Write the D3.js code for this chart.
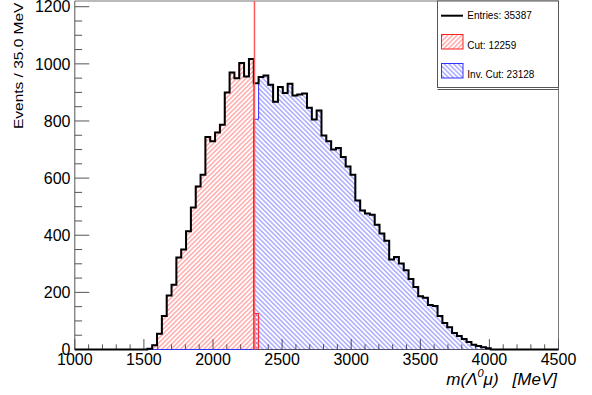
<!DOCTYPE html>
<html><head><meta charset="utf-8">
<script src="https://cdn.jsdelivr.net/npm/d3@7"></script>
<style>
html,body{margin:0;padding:0;background:#fff;}
svg{display:block;}
text{font-family:"Liberation Sans",Arial,Helvetica,sans-serif;fill:#000;}
</style></head><body>
<svg id="c" width="592" height="395"></svg>
<script>
// ---- data ----
const binStart = 1000, binWidth = 35, nBins = 100;
const xTickLabels = [1000, 1500, 2000, 2500, 3000, 3500, 4000, 4500];
const yTickLabels = [0, 200, 400, 600, 800, 1000, 1200];
const cutValue = 2300;
const cutCounts = [
  0,0,0,0,0,0,0,0,0,0,0,0,0,0,0,
  3,15,55,117,189,227,322,350,414,497,571,612,744,729,760,787,900,970,950,1003,956,1017,126,
  0,0,0,0,0,0,0,0,0,0,0,0,0,0,0,0,0,0,0,0,0,0,0,0,0,0,0,0,0,0,0,
  0,0,0,0,0,0,0,0,0,0,0,0,0,0,0,0,0,0,0,0,0,0,0,0,0,0,0,0,0,0,0
];
const invCutCounts = [
  0,0,0,0,0,0,0,0,0,0,0,0,0,0,0,0,0,0,0,0,0,0,0,0,0,0,0,0,0,0,0,0,0,0,0,0,0,
  806,954,959,927,867,919,898,930,889,893,896,846,805,837,749,729,700,705,674,641,612,
  522,487,476,472,437,406,381,315,324,301,277,247,219,186,181,156,152,117,93,78,58,47,37,26,17,12,8,4,
  0,0,0,0,0,0,0,0,0,0,0,0,0,0
];
const legendLabels = ["Entries: 35387", "Cut: 12259", "Inv. Cut: 23128"];
const yTitle = "Events / 35.0 MeV";

// ---- layout ----
const L = 74.8, R = 558.5, T = 1, B = 349.5;
const svg = d3.select("#c");
const x = d3.scaleLinear().domain([1000, 4500]).range([L, R]);
const y = d3.scaleLinear().domain([0, 1220]).range([B, T]);
const edges = d3.range(nBins + 1).map(i => binStart + binWidth * i);
const totalCounts = cutCounts.map((c, i) => c + invCutCounts[i]);

const defs = svg.append("defs");
function hatch(id, color, angle) {
  const p = defs.append("pattern").attr("id", id).attr("patternUnits", "userSpaceOnUse")
    .attr("width", 3.3).attr("height", 3.3).attr("patternTransform", `rotate(${angle})`);
  p.append("line").attr("x1", 1.65).attr("x2", 1.65).attr("y1", -1).attr("y2", 4.3)
    .attr("stroke", color).attr("stroke-width", 0.9);
}
hatch("hR", "rgba(255,0,0,0.55)", 45);
hatch("hB", "rgba(0,0,255,0.55)", -45);

function stepPoints(counts, i0, i1) {
  const pts = [[x(edges[i0]), y(0)]];
  for (let i = i0; i <= i1; i++) {
    pts.push([x(edges[i]), y(counts[i])]);
    pts.push([x(edges[i + 1]), y(counts[i])]);
  }
  pts.push([x(edges[i1 + 1]), y(0)]);
  return pts;
}
const line = d3.line();
function range(counts) {
  let a = counts.findIndex(v => v > 0), b = counts.length - 1;
  while (counts[b] === 0) b--;
  return [a, b];
}

// axes (drawn first)
const ax = svg.append("g").attr("stroke", "#555").attr("stroke-width", 1).attr("fill", "none");
ax.append("line").attr("x1", L).attr("x2", R).attr("y1", B).attr("y2", B);
ax.append("line").attr("x1", L).attr("x2", L).attr("y1", B).attr("y2", T);
ax.append("line").attr("x1", L).attr("x2", R).attr("y1", T).attr("y2", T).attr("stroke", "#777");
ax.append("line").attr("x1", R).attr("x2", R).attr("y1", T).attr("y2", B).attr("stroke", "#777");
for (let v = 1000; v <= 4500; v += 100) {
  const len = (v % 500 === 0) ? 10.4 : 5.2;
  ax.append("line").attr("x1", x(v)).attr("x2", x(v)).attr("y1", B).attr("y2", B - len);
}
for (let v = 0; v <= 1200; v += 50) {
  const len = (v % 200 === 0) ? 14.5 : 7.3;
  ax.append("line").attr("x1", L).attr("x2", L + len).attr("y1", y(v)).attr("y2", y(v));
}
svg.append("g").selectAll("text").data(xTickLabels).join("text")
  .attr("x", d => x(d)).attr("y", 365).attr("text-anchor", "middle")
  .style("font-size", "16px").text(d => d);
svg.append("g").selectAll("text").data(yTickLabels).join("text")
  .attr("x", 70.5).attr("y", d => y(d)).attr("dy", "0.36em").attr("text-anchor", "end")
  .style("font-size", "16px").text(d => d);

// hatch fills
const [r0, r1] = range(cutCounts);
const [b0, b1] = range(invCutCounts);
svg.append("path").attr("d", line(stepPoints(cutCounts, r0, r1)) + "Z").attr("fill", "url(#hR)").attr("stroke", "none");
svg.append("path").attr("d", line(stepPoints(invCutCounts, b0, b1)) + "Z").attr("fill", "url(#hB)").attr("stroke", "none");
// outlines
svg.append("path").attr("d", line(stepPoints(cutCounts, r0, r1))).attr("fill", "none").attr("stroke", "#ff2020").attr("stroke-width", 1);
svg.append("path").attr("d", line(stepPoints(invCutCounts, 0, nBins - 1))).attr("fill", "none").attr("stroke", "#3030ff").attr("stroke-width", 1);
svg.append("path").attr("d", line(stepPoints(totalCounts, 0, nBins - 1))).attr("fill", "none")
  .attr("stroke", "#000").attr("stroke-width", 2).attr("stroke-linejoin", "miter");

// cut line
svg.append("line").attr("x1", x(cutValue)).attr("x2", x(cutValue)).attr("y1", B).attr("y2", T)
  .attr("stroke", "#ff5a5a").attr("stroke-width", 1.5);

// axis titles
svg.append("text").attr("transform", "translate(22.5,129) rotate(-90) scale(1,0.78)")
  .attr("text-anchor", "start").style("font-size", "15.5px").text(yTitle);
const xt = svg.append("text").attr("x", 557).attr("y", 384.5).attr("text-anchor", "end")
  .style("font-size", "17px").style("font-style", "italic");
xt.append("tspan").text("m(Λ");
xt.append("tspan").attr("dy", -7.5).style("font-size", "11px").text("0");
xt.append("tspan").attr("dy", 7.5).text("μ)");
xt.append("tspan").attr("dx", 14).text("[MeV]");

// legend
const lg = svg.append("g");
lg.append("line").attr("x1", 437.5).attr("x2", 558.5).attr("y1", 89.5).attr("y2", 89.5).attr("stroke", "#555");
lg.append("rect").attr("x", 437.5).attr("y", 1).attr("width", 121).attr("height", 86.5)
  .attr("fill", "#fff").attr("stroke", "#555");
lg.append("line").attr("x1", 441).attr("x2", 463).attr("y1", 15.7).attr("y2", 15.7).attr("stroke", "#000").attr("stroke-width", 2);
lg.append("rect").attr("x", 441.5).attr("y", 34.5).attr("width", 21.5).attr("height", 14.5)
  .attr("fill", "url(#hR)").attr("stroke", "#ff2020");
lg.append("rect").attr("x", 441.5).attr("y", 63.5).attr("width", 21.5).attr("height", 14.5)
  .attr("fill", "url(#hB)").attr("stroke", "#3030ff");
lg.selectAll("text.l").data(legendLabels).join("text").attr("class", "l")
  .attr("x", 467.3).attr("y", (d, i) => [19.3, 48.6, 77.6][i])
  .style("font-size", "10px").text(d => d);
</script>
</body></html>
